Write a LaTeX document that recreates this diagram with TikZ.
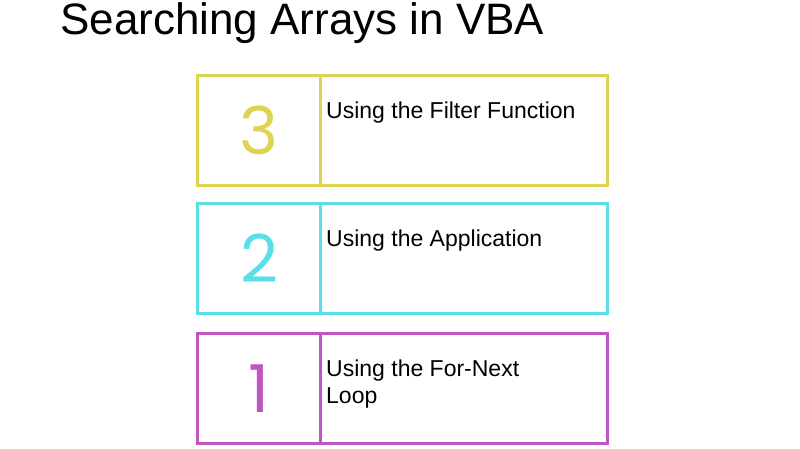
\documentclass[tikz,border=0pt]{standalone}
\usepackage{fontspec}
\setmainfont{Liberation Sans}
\newfontfamily\digitfont{Poppins}
\definecolor{cy}{RGB}{222,212,84}
\definecolor{cc}{RGB}{92,222,232}
\definecolor{cm}{RGB}{192,84,192}
\begin{document}
\begin{tikzpicture}[x=1pt,y=-1pt,
  cellbox/.style={draw=#1,line width=3,minimum height=110,anchor=north west,inner sep=0},
  digit/.style={text=#1,font=\digitfont\fontsize{66}{66}\selectfont},
  lbl/.style={anchor=north west,align=left,font=\fontsize{23}{27}\selectfont,inner sep=0}]
\useasboundingbox (0,0) rectangle (800,449);
\node[anchor=west,inner sep=0,font=\fontsize{44}{44}\selectfont] (title) at (60,23) {Searching Arrays in VBA};
\foreach \n/\c/\y/\t in {3/cy/74/{Using the Filter Function},2/cc/202/{Using the Application},1/cm/332/{Using the For-Next\\Loop}}{
  \node[cellbox=\c,minimum width=123] (num\n) at (196,\y) {};
  \node[cellbox=\c,minimum width=287] (txt\n) at (319,\y) {};
  \node[digit=\c] (d\n) at (num\n.center) {\n};
  \node[lbl] (l\n) at ([xshift=7,yshift=-28]txt\n.north west) {\t};
}
\end{tikzpicture}
\end{document}
